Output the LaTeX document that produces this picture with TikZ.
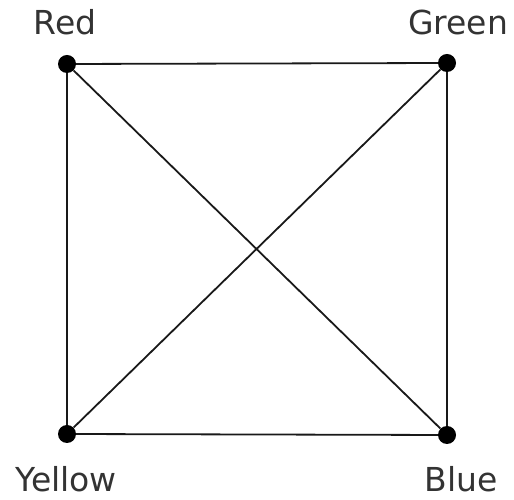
\documentclass[tikz,border=0pt]{standalone}
\usepackage{fontspec}
\setmainfont{DejaVu Sans}
\begin{document}
\begin{tikzpicture}[x=1pt,y=1pt,
  vert/.style={circle,fill=black,inner sep=0pt,minimum size=18pt},
  lbl/.style={text=black!80,font=\fontsize{33}{33}\selectfont,inner sep=0pt,anchor=base},
  edge/.style={draw=black!90,line width=1.8pt}]
\useasboundingbox (0,0) rectangle (514,500);
\node[vert] (R) at (67,436) {};
\node[vert] (G) at (447,437) {};
\node[vert] (Y) at (67,66) {};
\node[vert] (B) at (447,65) {};
\node[lbl] (lr) at (65,465) {Red};
\node[lbl] (lg) at (458,465) {Green};
\node[lbl] (ly) at (66,8) {Yellow};
\node[lbl] (lb) at (461,8) {Blue};
\draw[edge] (R) -- (G);
\draw[edge] (G) -- (B);
\draw[edge] (B) -- (Y);
\draw[edge] (Y) -- (R);
\draw[edge] (R) -- (B);
\draw[edge] (G) -- (Y);
\end{tikzpicture}
\end{document}
